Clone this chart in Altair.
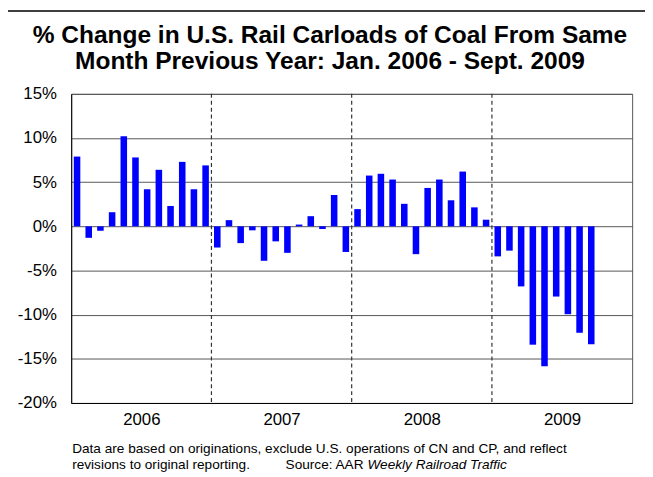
import altair as alt
import pandas as pd

# ---- data ----
years = ["2006", "2007", "2008", "2009"]
v2006 = [7.9, -1.3, -0.5, 1.6, 10.2, 7.8, 4.2, 6.4, 2.3, 7.3, 4.2, 6.9]
v2007 = [-2.4, 0.7, -1.9, -0.45, -3.9, -1.7, -3.0, 0.2, 1.15, -0.3, 3.55, -2.9]
v2008 = [1.95, 5.75, 5.95, 5.3, 2.55, -3.15, 4.35, 5.3, 2.95, 6.2, 2.15, 0.75]
v2009 = [-3.4, -2.75, -6.8, -13.4, -15.85, -7.95, -9.95, -12.05, -13.35]
y_ticks = [-20, -15, -10, -5, 0, 5, 10, 15]
year_boundaries = [12, 24, 36]
year_centers = [6, 18, 30, 42]
title_lines = ["% Change in U.S. Rail Carloads of Coal From Same",
               "Month Previous Year: Jan. 2006 - Sept. 2009"]
note_line1 = "Data are based on originations, exclude U.S. operations of CN and CP, and reflect"
note_line2a = "revisions to original reporting."
note_line2b = "Source: AAR"
note_italic = "Weekly Railroad Traffic"

values = v2006 + v2007 + v2008 + v2009
df = pd.DataFrame({"i": list(range(len(values))), "pct": values})
df["x0"] = df["i"] + 0.22
df["x1"] = df["i"] + 0.78

W, H = 568, 313
FONT = "Liberation Sans"

xscale = alt.Scale(domain=[0, 48], nice=False, zero=False)
yscale = alt.Scale(domain=[-20, 15], nice=False, zero=False)

label_expr = "[" + ",".join("'%s'" % y for y in years) + "][floor(datum.value/12)]"
x_axis = alt.Axis(values=year_centers, labelExpr=label_expr, title=None, grid=False,
                  ticks=False, labelFontSize=17, labelFont=FONT, labelColor="black",
                  domainColor="black", domainWidth=1, labelPadding=9, labelBaseline="top")
y_axis = alt.Axis(values=y_ticks, labelExpr="datum.value + '%'", title=None, grid=True,
                  gridColor="#555555", gridWidth=1, ticks=False, labelFontSize=17,
                  labelFont=FONT, labelColor="black", domainColor="black", domainWidth=1,
                  labelPadding=15)

bars = alt.Chart(df).mark_bar(color="#0000FF").encode(
    x=alt.X("x0:Q", scale=xscale, axis=x_axis),
    x2="x1",
    y=alt.Y("pct:Q", scale=yscale, axis=y_axis),
    y2=alt.datum(0),
)

dashes = alt.Chart(pd.DataFrame({"b": year_boundaries})).mark_rule(
    strokeDash=[4, 3], color="#333333", strokeWidth=1.2
).encode(x=alt.X("b:Q", scale=xscale, axis=x_axis))

one = pd.DataFrame({"k": [0]})


def text_layer(txt, x, y, size, weight="normal", style="normal", align="left"):
    return alt.Chart(pd.DataFrame({"t": [txt]})).mark_text(
        font=FONT, fontSize=size, fontWeight=weight, fontStyle=style,
        align=align, baseline="alphabetic", color="black"
    ).encode(text="t:N", x=alt.value(x), y=alt.value(y))


title1 = text_layer(title_lines[0], 262, -51, 24.8, weight="bold", align="center")
title2 = text_layer(title_lines[1], 262, -25, 24.8, weight="bold", align="center")
note1 = text_layer(note_line1, 1, 364, 13.8)
note2a = text_layer(note_line2a, 1, 380, 13.8)
note2b = text_layer(note_line2b, 296, 380, 13.8, align="right")
note3 = text_layer(note_italic, 300, 380, 13.8, style="italic")

frame_v = alt.Chart(one).mark_rule(color="black", strokeWidth=1.5).encode(
    x=alt.value(-68), y=alt.value(-84), y2=alt.value(400))
frame_h = alt.Chart(one).mark_rule(color="black", strokeWidth=1.5).encode(
    x=alt.value(-68), x2=alt.value(600), y=alt.value(-84))

chart = alt.layer(
    frame_v, frame_h, bars, dashes, title1, title2, note1, note2a, note2b, note3
).properties(
    width=W, height=H,
    autosize=alt.AutoSizeParams(type="none"),
    padding={"left": 64, "top": 84, "right": 13, "bottom": 71},
).configure_view(stroke="#555555", strokeWidth=1)

chart.save("out.html", embed_options={"renderer": "svg", "actions": False})
